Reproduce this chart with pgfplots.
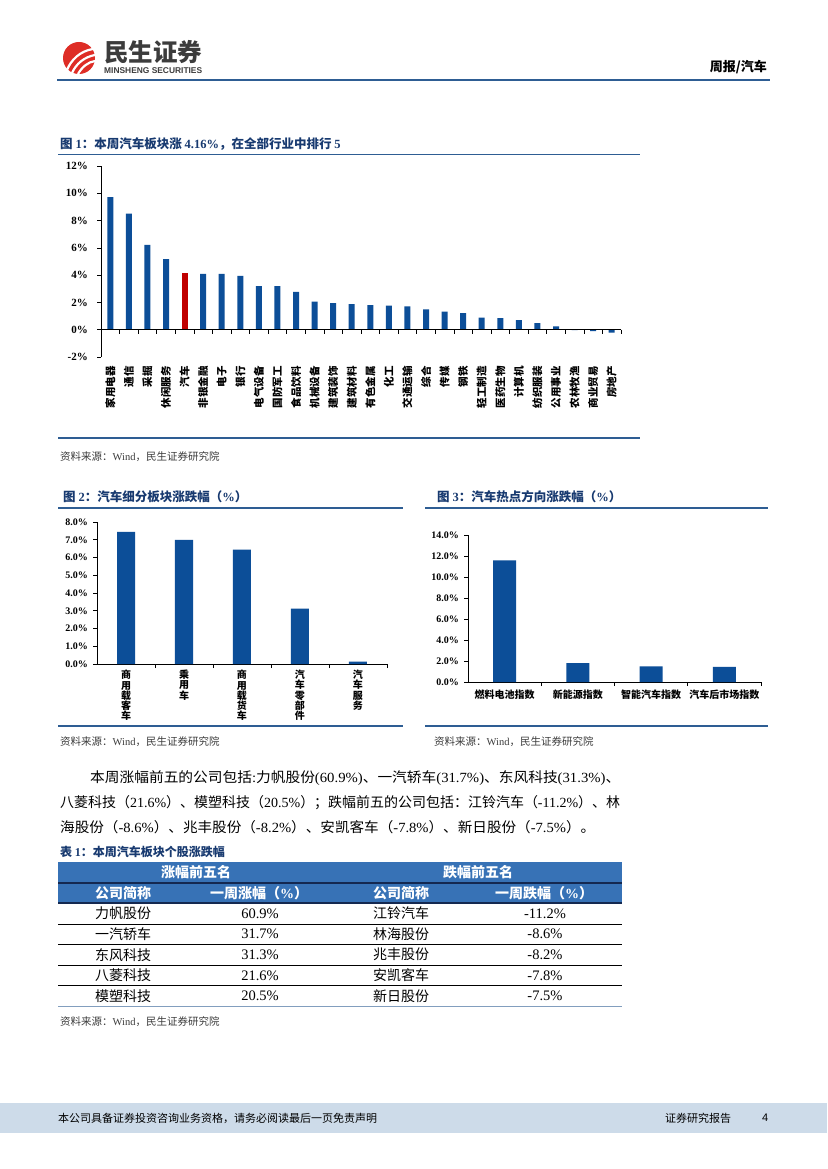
\documentclass[border=0pt]{standalone}
\usepackage{fontspec}
\setmainfont{Liberation Serif}
\setsansfont{Liberation Sans}
\newfontfamily\cjk{Noto Sans CJK SC}
\usepackage{graphicx}
\usepackage{pgfplots}
\pgfplotsset{compat=1.18}
\definecolor{barblue}{RGB}{12,78,152}
\definecolor{barred}{RGB}{192,0,0}
\definecolor{titleblue}{RGB}{24,58,112}
\definecolor{lineblue}{RGB}{46,93,147}
\definecolor{hdrblue}{RGB}{55,114,182}
\definecolor{hdrline}{RGB}{20,40,80}
\definecolor{footbg}{RGB}{205,219,233}
\definecolor{logored}{RGB}{222,45,38}
\definecolor{logogray}{RGB}{60,60,60}
\definecolor{srcgray}{RGB}{60,60,60}
\pgfplotsset{
  pagebar/.style={
    scale only axis, anchor=south west,
    axis y line*=left, axis x line*=bottom, axis line style={-, black, line width=0.7pt},
    tick align=outside, major tick length=4pt, minor tick length=4pt,
    tick style={black, line width=0.7pt},
    major x tick style={draw=none},
    /pgf/number format/assume math mode=true,
    yticklabel style={font=\bfseries\fontsize{10}{10}\selectfont, inner sep=2pt, xshift=-3pt},
  }
}
\begin{document}
\begin{tikzpicture}
\path[use as bounding box, fill=white] (0pt,0pt) rectangle (827pt,-1169pt);
\begin{scope}[x=1pt,y=-1pt]
% ---------- header ----------
\fill[logored] (79,58) circle (16pt);
\draw[white, line width=2.2pt] (67,70) .. controls (71,60) and (80,51) .. (93,49);
\draw[white, line width=2.2pt] (72,73) .. controls (76,64) and (84,57) .. (95,55);
\draw[white, line width=2.2pt] (78,74) .. controls (82,67) and (88,62) .. (95,61);
\node[anchor=west, inner sep=0, text=logogray] at (104,52) {\cjk\bfseries\fontsize{24.5}{24.5}\selectfont 民生证券};
\node[anchor=west, inner sep=0, text=logogray] at (104,70.5) {\resizebox{98pt}{!}{\sffamily\bfseries MINSHENG SECURITIES}};
\node[anchor=east, inner sep=0] at (767,67) {\cjk\bfseries\fontsize{13}{13}\selectfont 周报/汽车};
\draw[lineblue, line width=2pt] (57,80.5) -- (770,80.5);
% ---------- figure 1 frame ----------
\node[anchor=west, inner sep=0, text=titleblue] at (60,144) {\cjk\bfseries\fontsize{12.5}{12.5}\selectfont 图 {\rmfamily 1}：本周汽车板块涨 {\rmfamily 4.16\%}，在全部行业中排行 {\rmfamily 5}};
\draw[lineblue, line width=1.6pt] (58,154.5) -- (640,154.5);
\draw[lineblue, line width=1.4pt] (58,438) -- (640,438);
\node[anchor=west, inner sep=0, text=srcgray] at (60,457) {\cjk\fontsize{10.5}{10.5}\selectfont 资料来源：{\rmfamily Wind}，民生证券研究院};
% ---------- figure 2 frame ----------
\node[anchor=west, inner sep=0, text=titleblue] at (63,497) {\cjk\bfseries\fontsize{12.5}{12.5}\selectfont 图 {\rmfamily 2}：汽车细分板块涨跌幅（{\rmfamily\%}）};
\draw[lineblue, line width=1.6pt] (58,508) -- (403,508);
\draw[lineblue, line width=1.4pt] (58,726) -- (403,726);
\node[anchor=west, inner sep=0, text=srcgray] at (60,742) {\cjk\fontsize{10.5}{10.5}\selectfont 资料来源：{\rmfamily Wind}，民生证券研究院};
% ---------- figure 3 frame ----------
\node[anchor=west, inner sep=0, text=titleblue] at (437,497) {\cjk\bfseries\fontsize{12.5}{12.5}\selectfont 图 {\rmfamily 3}：汽车热点方向涨跌幅（{\rmfamily\%}）};
\draw[lineblue, line width=1.6pt] (425,508) -- (768,508);
\draw[lineblue, line width=1.4pt] (425,726) -- (768,726);
\node[anchor=west, inner sep=0, text=srcgray] at (434,742) {\cjk\fontsize{10.5}{10.5}\selectfont 资料来源：{\rmfamily Wind}，民生证券研究院};
% ---------- body text ----------
\node[anchor=base west, inner sep=0] at (90,782) {\resizebox{530pt}{\height}{\fontsize{14}{14}\selectfont{\cjk 本周涨幅前五的公司包括}:{\cjk 力帆股份}(60.9\%){\cjk 、一汽轿车}(31.7\%){\cjk 、东风科技}(31.3\%){\cjk 、}}};
\node[anchor=base west, inner sep=0] at (60,807) {\resizebox{560pt}{\height}{\fontsize{14}{14}\selectfont{\cjk 八菱科技（}21.6\%{\cjk ）、模塑科技（}20.5\%{\cjk ）；跌幅前五的公司包括：江铃汽车（}-11.2\%{\cjk ）、林}}};
\node[anchor=base west, inner sep=0] at (60,832) {\resizebox{535pt}{\height}{\fontsize{14}{14}\selectfont{\cjk 海股份（}-8.6\%{\cjk ）、兆丰股份（}-8.2\%{\cjk ）、安凯客车（}-7.8\%{\cjk ）、新日股份（}-7.5\%{\cjk ）。}}};
% ---------- table ----------
\node[anchor=west, inner sep=0, text=titleblue] at (60,852) {\cjk\bfseries\fontsize{12}{12}\selectfont 表 {\rmfamily 1}：本周汽车板块个股涨跌幅};
\fill[hdrblue] (58,862) rectangle (622,903);
\draw[hdrline, line width=1.2pt] (58,883) -- (622,883);
\draw[hdrline, line width=1.2pt] (58,903) -- (622,903);
\foreach \yy in {924,944,965,985} {\draw[black, line width=0.7pt] (58,\yy) -- (622,\yy);}
\draw[lineblue!60, line width=1pt] (58,1006) -- (622,1006);
\node[text=white] at (196,872.5) {\cjk\bfseries\fontsize{14}{14}\selectfont 涨幅前五名};
\node[text=white] at (478,872.5) {\cjk\bfseries\fontsize{14}{14}\selectfont 跌幅前五名};
\node[text=white, anchor=west, inner sep=0] at (95,893) {\cjk\bfseries\fontsize{14}{14}\selectfont 公司简称};
\node[text=white] at (259,893) {\cjk\bfseries\fontsize{14}{14}\selectfont 一周涨幅（{\rmfamily\%}）};
\node[text=white, anchor=west, inner sep=0] at (373,893) {\cjk\bfseries\fontsize{14}{14}\selectfont 公司简称};
\node[text=white] at (544,893) {\cjk\bfseries\fontsize{14}{14}\selectfont 一周跌幅（{\rmfamily\%}）};
\foreach \nA/\vA/\nB/\vB [count=\i from 0] in {力帆股份/60.9/江铃汽车/-11.2, 一汽轿车/31.7/林海股份/-8.6, 东风科技/31.3/兆丰股份/-8.2, 八菱科技/21.6/安凯客车/-7.8, 模塑科技/20.5/新日股份/-7.5} {
  \pgfmathsetmacro\yc{913.5+20.6*\i}
  \node[anchor=west, inner sep=0] at (95,\yc) {\cjk\fontsize{14}{14}\selectfont \nA};
  \node[inner sep=0] at (260,\yc) {\fontsize{14.5}{14.5}\selectfont \vA\%};
  \node[anchor=west, inner sep=0] at (373,\yc) {\cjk\fontsize{14}{14}\selectfont \nB};
  \node[inner sep=0] at (545,\yc) {\fontsize{14.5}{14.5}\selectfont \vB\%};
}
\node[anchor=west, inner sep=0, text=srcgray] at (60,1022) {\cjk\fontsize{10.5}{10.5}\selectfont 资料来源：{\rmfamily Wind}，民生证券研究院};
% ---------- footer ----------
\fill[footbg] (0,1103) rectangle (827,1133);
\node[anchor=west, inner sep=0] at (58,1118) {\cjk\fontsize{11}{11}\selectfont 本公司具备证券投资咨询业务资格，请务必阅读最后一页免责声明};
\node[anchor=west, inner sep=0] at (665,1118) {\cjk\fontsize{11}{11}\selectfont 证券研究报告};
\node[anchor=west, inner sep=0] at (762,1118) {\sffamily\fontsize{11}{11}\selectfont 4};
\end{scope}

% ================= Figure 1 =================
\begin{axis}[pagebar,
  at={(101pt,-357pt)}, width=520pt, height=191pt,
  xmin=-0.5, xmax=27.5, ymin=-2, ymax=12,
  x axis line style={draw=none},
  ytick={-2,0,...,12},
  yticklabel={\pgfmathprintnumber{\tick}\%},
  yticklabel style={font=\bfseries\fontsize{11}{11}\selectfont, xshift=-4pt},
  xtick={0,...,27},
  xticklabels={家用电器,通信,采掘,休闲服务,汽车,非银金融,电子,银行,电气设备,国防军工,食品饮料,机械设备,建筑装饰,建筑材料,有色金属,化工,交通运输,综合,传媒,钢铁,轻工制造,医药生物,计算机,纺织服装,公用事业,农林牧渔,商业贸易,房地产},
  xticklabel style={rotate=90, anchor=east, inner sep=1pt, font=\cjk\bfseries\fontsize{10.5}{10.5}\selectfont},
  xticklabel shift=4pt,
  clip=false]
\addplot[ybar, bar width=6pt, bar shift=0pt, fill=barblue, draw=none] coordinates {
(0,9.71) (1,8.51) (2,6.22) (3,5.17) (5,4.10) (6,4.10) (7,3.95) (8,3.20) (9,3.20)
(10,2.78) (11,2.05) (12,1.95) (13,1.88) (14,1.80) (15,1.76) (16,1.71) (17,1.49)
(18,1.32) (19,1.22) (20,0.88) (21,0.85) (22,0.71) (23,0.49) (24,0.24) (25,-0.03)
(26,-0.10) (27,-0.22)};
\addplot[ybar, bar width=6pt, bar shift=0pt, fill=barred, draw=none] coordinates {(4,4.16)};
\draw[black, line width=0.7pt] (axis cs:-0.5,0) -- (axis cs:27.5,0);
\addplot[ycomb, black, line width=0.7pt, no marks] coordinates {
(0.5,-0.3) (1.5,-0.3) (2.5,-0.3) (3.5,-0.3) (4.5,-0.3) (5.5,-0.3) (6.5,-0.3) (7.5,-0.3)
(8.5,-0.3) (9.5,-0.3) (10.5,-0.3) (11.5,-0.3) (12.5,-0.3) (13.5,-0.3) (14.5,-0.3)
(15.5,-0.3) (16.5,-0.3) (17.5,-0.3) (18.5,-0.3) (19.5,-0.3) (20.5,-0.3) (21.5,-0.3)
(22.5,-0.3) (23.5,-0.3) (24.5,-0.3) (25.5,-0.3) (26.5,-0.3) (27.5,-0.3)};
\end{axis}

% ================= Figure 2 =================
\begin{axis}[pagebar,
  at={(97pt,-664pt)}, width=290pt, height=142pt,
  xmin=-0.5, xmax=4.5, ymin=0, ymax=8,
  ytick={0,1,...,8},
  yticklabel={\pgfmathprintnumber[fixed,fixed zerofill,precision=1]{\tick}\%},
  xtick={0,...,4},
  minor xtick={0.5,1.5,2.5,3.5,4.5},
  xticklabels={{商\\用\\载\\客\\车},{乘\\用\\车},{商\\用\\载\\货\\车},{汽\\车\\零\\部\\件},{汽\\车\\服\\务}},
  xticklabel style={align=center, anchor=north, inner sep=1pt, font=\cjk\bfseries\fontsize{10}{10.2}\selectfont},
  xticklabel shift=1pt]
\addplot[ybar, bar width=18pt, bar shift=0pt, fill=barblue, draw=none] coordinates {
(0,7.44) (1,6.99) (2,6.45) (3,3.12) (4,0.13)};
\end{axis}

% ================= Figure 3 =================
\begin{axis}[pagebar,
  at={(468pt,-682pt)}, width=293pt, height=147pt,
  xmin=-0.5, xmax=3.5, ymin=0, ymax=14,
  ytick={0,2,...,14},
  yticklabel={\pgfmathprintnumber[fixed,fixed zerofill,precision=1]{\tick}\%},
  xtick={0,...,3},
  minor xtick={0.5,1.5,2.5,3.5},
  xticklabels={燃料电池指数,新能源指数,智能汽车指数,汽车后市场指数},
  xticklabel style={anchor=north, inner sep=1pt, font=\cjk\bfseries\fontsize{10}{10}\selectfont},
  xticklabel shift=3pt]
\addplot[ybar, bar width=23pt, bar shift=0pt, fill=barblue, draw=none] coordinates {
(0,11.59) (1,1.81) (2,1.49) (3,1.43)};
\end{axis}
\end{tikzpicture}
\end{document}
